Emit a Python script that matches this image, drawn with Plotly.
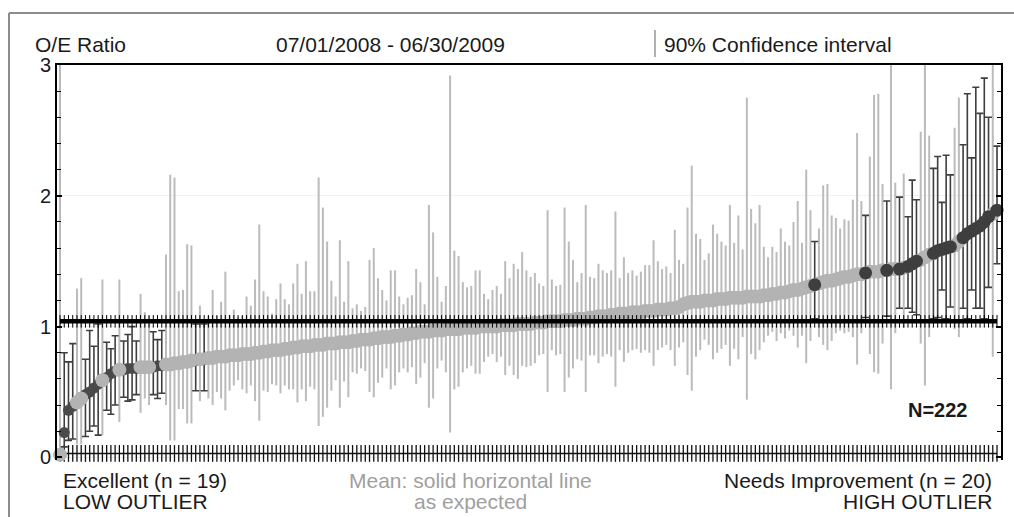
import plotly.graph_objects as go

# ---------------- data ----------------
N_HOSP = 222
MEAN_OE = 1.04
BASELINE = 0.03

OE_RATIO = [
    0.02, 0.19, 0.36, 0.39, 0.42, 0.45, 0.48, 0.50, 0.53, 0.56,
    0.59, 0.61, 0.64, 0.66, 0.67, 0.67, 0.68, 0.68, 0.68, 0.69,
    0.69, 0.69, 0.69, 0.70, 0.70, 0.71, 0.71, 0.72, 0.72, 0.73,
    0.73, 0.74, 0.74, 0.75, 0.75, 0.76, 0.76, 0.77, 0.77, 0.77,
    0.78, 0.78, 0.78, 0.79, 0.79, 0.79, 0.80, 0.80, 0.81, 0.81,
    0.82, 0.82, 0.82, 0.83, 0.83, 0.84, 0.84, 0.85, 0.85, 0.85,
    0.86, 0.86, 0.86, 0.87, 0.87, 0.87, 0.88, 0.88, 0.88, 0.89,
    0.89, 0.90, 0.90, 0.90, 0.91, 0.91, 0.92, 0.92, 0.92, 0.93,
    0.93, 0.94, 0.94, 0.95, 0.95, 0.96, 0.96, 0.96, 0.97, 0.97,
    0.97, 0.98, 0.98, 0.98, 0.98, 0.99, 0.99, 0.99, 0.99, 1.00,
    1.00, 1.00, 1.00, 1.00, 1.01, 1.01, 1.01, 1.01, 1.02, 1.02,
    1.02, 1.02, 1.03, 1.03, 1.03, 1.04, 1.04, 1.04, 1.04, 1.05,
    1.05, 1.05, 1.06, 1.06, 1.06, 1.07, 1.07, 1.08, 1.08, 1.08,
    1.09, 1.09, 1.10, 1.10, 1.10, 1.11, 1.11, 1.11, 1.12, 1.12,
    1.12, 1.13, 1.13, 1.13, 1.14, 1.14, 1.15, 1.17, 1.18, 1.19,
    1.19, 1.19, 1.20, 1.20, 1.20, 1.21, 1.21, 1.21, 1.22, 1.22,
    1.22, 1.22, 1.23, 1.23, 1.23, 1.23, 1.24, 1.24, 1.25, 1.25,
    1.26, 1.26, 1.27, 1.28, 1.28, 1.29, 1.30, 1.31, 1.32, 1.33,
    1.34, 1.35, 1.35, 1.36, 1.37, 1.38, 1.38, 1.39, 1.40, 1.40,
    1.41, 1.42, 1.42, 1.42, 1.43, 1.43, 1.44, 1.44, 1.44, 1.45,
    1.46, 1.48, 1.50, 1.51, 1.53, 1.55, 1.56, 1.58, 1.59, 1.60,
    1.61, 1.62, 1.65, 1.68, 1.71, 1.73, 1.75, 1.77, 1.80, 1.84,
    1.86, 1.89,
]

CI_UPPER = [
    3.10, 0.80, 0.73, 0.87, 1.29, 1.37, 0.75, 0.97, 0.85, 1.02,
    1.36, 0.88, 0.83, 0.93, 1.36, 0.89, 0.94, 1.00, 0.89, 1.25,
    1.11, 1.08, 0.96, 0.90, 0.97, 1.55, 2.16, 2.14, 1.27, 1.28,
    1.63, 1.62, 1.02, 1.16, 1.02, 1.08, 1.28, 1.08, 1.19, 1.42,
    1.09, 1.13, 1.07, 1.08, 1.23, 1.16, 1.36, 1.78, 1.27, 1.23,
    1.10, 1.21, 1.33, 1.21, 1.17, 1.33, 1.48, 1.25, 1.50, 1.27,
    1.27, 2.14, 1.91, 1.65, 1.35, 1.23, 1.66, 1.19, 1.50, 1.14,
    1.17, 1.12, 1.15, 1.51, 1.60, 1.37, 1.28, 1.20, 1.43, 1.43,
    1.23, 1.17, 1.22, 1.24, 1.44, 1.34, 1.17, 1.93, 1.72, 1.38,
    1.19, 1.31, 2.92, 1.58, 1.54, 1.34, 1.30, 1.31, 1.43, 1.43,
    1.25, 1.21, 1.28, 1.31, 1.25, 1.50, 1.37, 1.48, 1.44, 1.57,
    1.43, 1.38, 1.41, 1.33, 1.31, 1.89, 1.36, 1.31, 1.32, 1.91,
    1.65, 1.51, 1.34, 1.41, 1.93, 1.38, 1.37, 1.48, 1.43, 1.41,
    1.43, 1.88, 1.37, 1.53, 1.41, 1.43, 1.39, 1.42, 1.47, 1.47,
    1.66, 1.50, 1.44, 1.46, 1.41, 1.74, 1.51, 1.48, 1.91, 2.23,
    1.71, 1.67, 1.51, 1.56, 1.78, 1.71, 1.65, 1.62, 1.93, 1.64,
    1.85, 1.59, 2.75, 1.90, 1.79, 1.93, 1.61, 1.53, 1.61, 1.57,
    1.75, 1.65, 1.62, 1.80, 1.96, 1.64, 2.20, 1.89, 1.65, 1.75,
    2.08, 2.09, 1.85, 1.83, 1.75, 1.82, 1.81, 1.97, 2.48, 1.96,
    1.85, 2.30, 2.77, 2.78, 2.09, 1.96, 3.10, 2.10, 1.99, 2.17,
    1.84, 2.12, 1.97, 2.49, 3.10, 2.46, 2.21, 2.30, 1.95, 2.31,
    2.16, 2.52, 2.75, 2.39, 2.78, 2.29, 2.83, 2.63, 2.90, 2.60,
    3.10, 2.38,
]

CI_LOWER = [
    0.00, 0.08, 0.13, 0.14, 0.10, 0.10, 0.16, 0.20, 0.24, 0.17,
    0.17, 0.36, 0.33, 0.40, 0.27, 0.46, 0.43, 0.44, 0.48, 0.34,
    0.45, 0.40, 0.48, 0.45, 0.49, 0.40, 0.13, 0.13, 0.37, 0.37,
    0.26, 0.26, 0.51, 0.43, 0.51, 0.45, 0.40, 0.50, 0.45, 0.36,
    0.51, 0.55, 0.59, 0.52, 0.49, 0.55, 0.43, 0.28, 0.51, 0.50,
    0.56, 0.55, 0.49, 0.55, 0.52, 0.52, 0.42, 0.52, 0.43, 0.54,
    0.52, 0.24, 0.31, 0.38, 0.51, 0.59, 0.38, 0.58, 0.46, 0.65,
    0.64, 0.68, 0.66, 0.50, 0.46, 0.57, 0.61, 0.68, 0.52, 0.55,
    0.65, 0.68, 0.65, 0.69, 0.56, 0.61, 0.72, 0.38, 0.45, 0.68,
    0.74, 0.65, 0.19, 0.52, 0.54, 0.65, 0.68, 0.70, 0.64, 0.64,
    0.73, 0.77, 0.79, 0.73, 0.77, 0.63, 0.70, 0.63, 0.60, 0.70,
    0.69, 0.70, 0.72, 0.78, 0.79, 0.50, 0.82, 0.78, 0.79, 0.50,
    0.61, 0.68, 0.75, 0.74, 0.50, 0.78, 0.78, 0.72, 0.77, 0.79,
    0.77, 0.54, 0.82, 0.73, 0.80, 0.82, 0.83, 0.80, 0.82, 0.80,
    0.70, 0.82, 0.84, 0.86, 0.82, 0.70, 0.84, 0.88, 0.63, 0.51,
    0.77, 0.82, 0.90, 0.86, 0.75, 0.80, 0.83, 0.86, 0.70, 0.83,
    0.75, 0.92, 0.44, 0.79, 0.75, 0.82, 0.88, 0.93, 0.96, 0.89,
    0.95, 0.91, 0.97, 0.93, 0.84, 0.93, 0.72, 0.89, 1.06, 0.92,
    0.86, 0.82, 0.89, 0.95, 0.97, 0.95, 0.96, 0.92, 0.71, 0.95,
    1.07, 0.79, 0.65, 0.64, 0.87, 1.08, 0.52, 0.95, 1.14, 0.99,
    1.14, 1.11, 1.09, 0.87, 0.55, 0.92, 1.06, 1.07, 1.28, 1.06,
    1.15, 0.98, 0.92, 1.14, 1.06, 1.28, 1.14, 1.14, 1.06, 1.30,
    0.77, 1.48,
]

LOW_OUTLIERS = [1, 2, 3, 6, 7, 8, 9, 11, 12, 13, 15, 16, 17, 18, 22, 23, 24, 32, 34]
HIGH_OUTLIERS = [178, 190, 195, 198, 200, 201, 202, 206, 207, 208, 209, 210,
                 213, 214, 215, 216, 217, 218, 219, 221]

TITLE_LEFT = "O/E Ratio"
PERIOD = "07/01/2008 - 06/30/2009"
CI_LABEL = "90% Confidence interval"
N_LABEL = "N=222"

# ---------------- derived groups ----------------
HOSP = list(range(N_HOSP))
outl = set(LOW_OUTLIERS) | set(HIGH_OUTLIERS)
gray_idx = [i for i in HOSP if i not in outl]
dark_idx = sorted(outl)


def pick(lst, idx):
    return [lst[i] for i in idx]


def err_plus(idx):
    return [CI_UPPER[i] - OE_RATIO[i] for i in idx]


def err_minus(idx):
    return [OE_RATIO[i] - CI_LOWER[i] for i in idx]


GRAY_BAR = "#bbbbbb"
GRAY_DOT = "#b3b3b3"
DARK = "#3e3e3e"
FONT = "Liberation Sans, Arial, sans-serif"

fig = go.Figure()

# bottom comb (hospital tick marks)
fig.add_trace(go.Scatter(
    x=HOSP, y=[BASELINE] * N_HOSP, mode="lines+markers",
    line=dict(color="#111111", width=1.5),
    marker=dict(symbol="line-ns", size=12, line=dict(color="#111111", width=1.3)),
    hoverinfo="skip", showlegend=False, cliponaxis=False))

# gray CI bars
fig.add_trace(go.Scatter(
    x=gray_idx, y=pick(OE_RATIO, gray_idx), mode="markers",
    marker=dict(size=1, color="rgba(0,0,0,0)"),
    error_y=dict(type="data", symmetric=False, array=err_plus(gray_idx),
                 arrayminus=err_minus(gray_idx), color=GRAY_BAR, thickness=2, width=0),
    showlegend=False, hoverinfo="skip"))

# dark CI bars (outliers)
fig.add_trace(go.Scatter(
    x=dark_idx, y=pick(OE_RATIO, dark_idx), mode="markers",
    marker=dict(size=1, color="rgba(0,0,0,0)"),
    error_y=dict(type="data", symmetric=False, array=err_plus(dark_idx),
                 arrayminus=err_minus(dark_idx), color=DARK, thickness=1.6, width=3.5),
    showlegend=False, hoverinfo="skip"))

# low outlier dots (partially covered by gray dots)
fig.add_trace(go.Scatter(
    x=LOW_OUTLIERS, y=pick(OE_RATIO, LOW_OUTLIERS), mode="markers",
    marker=dict(size=11, color="#4a4a4a"), showlegend=False, cliponaxis=False))

# gray dots
fig.add_trace(go.Scatter(
    x=gray_idx, y=pick(OE_RATIO, gray_idx), mode="markers",
    marker=dict(size=14, color=GRAY_DOT), showlegend=False, cliponaxis=False))

# high outlier dots
fig.add_trace(go.Scatter(
    x=HIGH_OUTLIERS, y=pick(OE_RATIO, HIGH_OUTLIERS), mode="markers",
    marker=dict(size=13, color=DARK), showlegend=False, cliponaxis=False))

# mean line with tick comb
fig.add_trace(go.Scatter(
    x=HOSP, y=[MEAN_OE] * N_HOSP, mode="lines+markers",
    line=dict(color="#000000", width=4.5),
    marker=dict(symbol="line-ns", size=9, line=dict(color="#000000", width=1)),
    showlegend=False, hoverinfo="skip"))

# body margin is removed by the post script, so page pixels == figure pixels
W, H = 1014, 517
PL, PR, PT, PB = 57, 13, 65, 57
pw, ph = W - PL - PR, H - PT - PB


def px(xp):  # page pixel -> paper x
    return (xp - PL) / pw


def py(yp):  # page pixel -> paper y
    return (H - PB - yp) / ph


ann = [
    dict(text=TITLE_LEFT, x=px(33), y=py(45), xanchor="left"),
    dict(text=PERIOD, x=px(390), y=py(45), xanchor="center"),
    dict(text=CI_LABEL, x=px(662), y=py(45), xanchor="left"),
    dict(text="<b>" + N_LABEL + "</b>", x=px(938), y=py(410), xanchor="center", size=20),
    dict(text="Excellent (n = 19)", x=px(61), y=py(480), xanchor="left"),
    dict(text="LOW OUTLIER", x=px(61), y=py(501), xanchor="left"),
    dict(text="Mean: solid horizontal line", x=px(470), y=py(480), xanchor="center", color="#a0a0a0"),
    dict(text="as expected", x=px(470), y=py(502), xanchor="center", color="#a0a0a0"),
    dict(text="Needs Improvement (n = 20)", x=px(994), y=py(480), xanchor="right"),
    dict(text="HIGH OUTLIER", x=px(994), y=py(501), xanchor="right"),
]
annotations = []
for a in ann:
    annotations.append(dict(
        text=a["text"], x=a["x"], y=a["y"], xref="paper", yref="paper",
        xanchor=a["xanchor"], yanchor="middle", showarrow=False,
        font=dict(family=FONT, size=a.get("size", 21), color=a.get("color", "#1a1a1a"))))

FRAME = dict(color="#8c8c8c", width=2)
shapes = [
    # outer frame: top and left edges (right/bottom run off the page)
    dict(type="line", xref="paper", yref="paper", x0=px(9), x1=px(1014), y0=py(13), y1=py(13),
         line=FRAME, layer="below"),
    dict(type="line", xref="paper", yref="paper", x0=px(9), x1=px(9), y0=py(13), y1=py(517),
         line=FRAME, layer="below"),
    # CI legend glyph
    dict(type="line", xref="paper", yref="paper", x0=px(655), x1=px(655), y0=py(57), y1=py(30),
         line=dict(color="#b0b0b0", width=2)),
]

fig.update_layout(
    width=W, height=H,
    margin=dict(l=PL, r=PR, t=PT, b=PB),
    paper_bgcolor="white", plot_bgcolor="white",
    font=dict(family=FONT, size=20, color="#1a1a1a"),
    xaxis=dict(range=[-0.71, 221.94], side="top", showline=True, linecolor="#000000",
               linewidth=2, showticklabels=False, ticks="", showgrid=False, zeroline=False),
    yaxis=dict(range=[-0.02, 3.0], tickvals=[0, 1, 2, 3], ticks="inside", ticklen=5,
               tickwidth=1.5, tickcolor="#000000", showline=True, linecolor="#000000",
               linewidth=2, mirror="allticks", showgrid=True, gridcolor="#f0f0f0",
               zeroline=False, tickfont=dict(size=20, family=FONT, color="#1a1a1a"),
               minor=dict(dtick=0.2, tick0=0, ticks="inside", ticklen=4,
                          tickcolor="#000000", tickwidth=1.2, showgrid=False)),
    annotations=annotations,
    shapes=shapes,
    showlegend=False,
)

fig.write_html(
    "out.html",
    config={"displayModeBar": False},
    post_script="document.body.style.margin='0';document.body.style.overflow='hidden';",
)
